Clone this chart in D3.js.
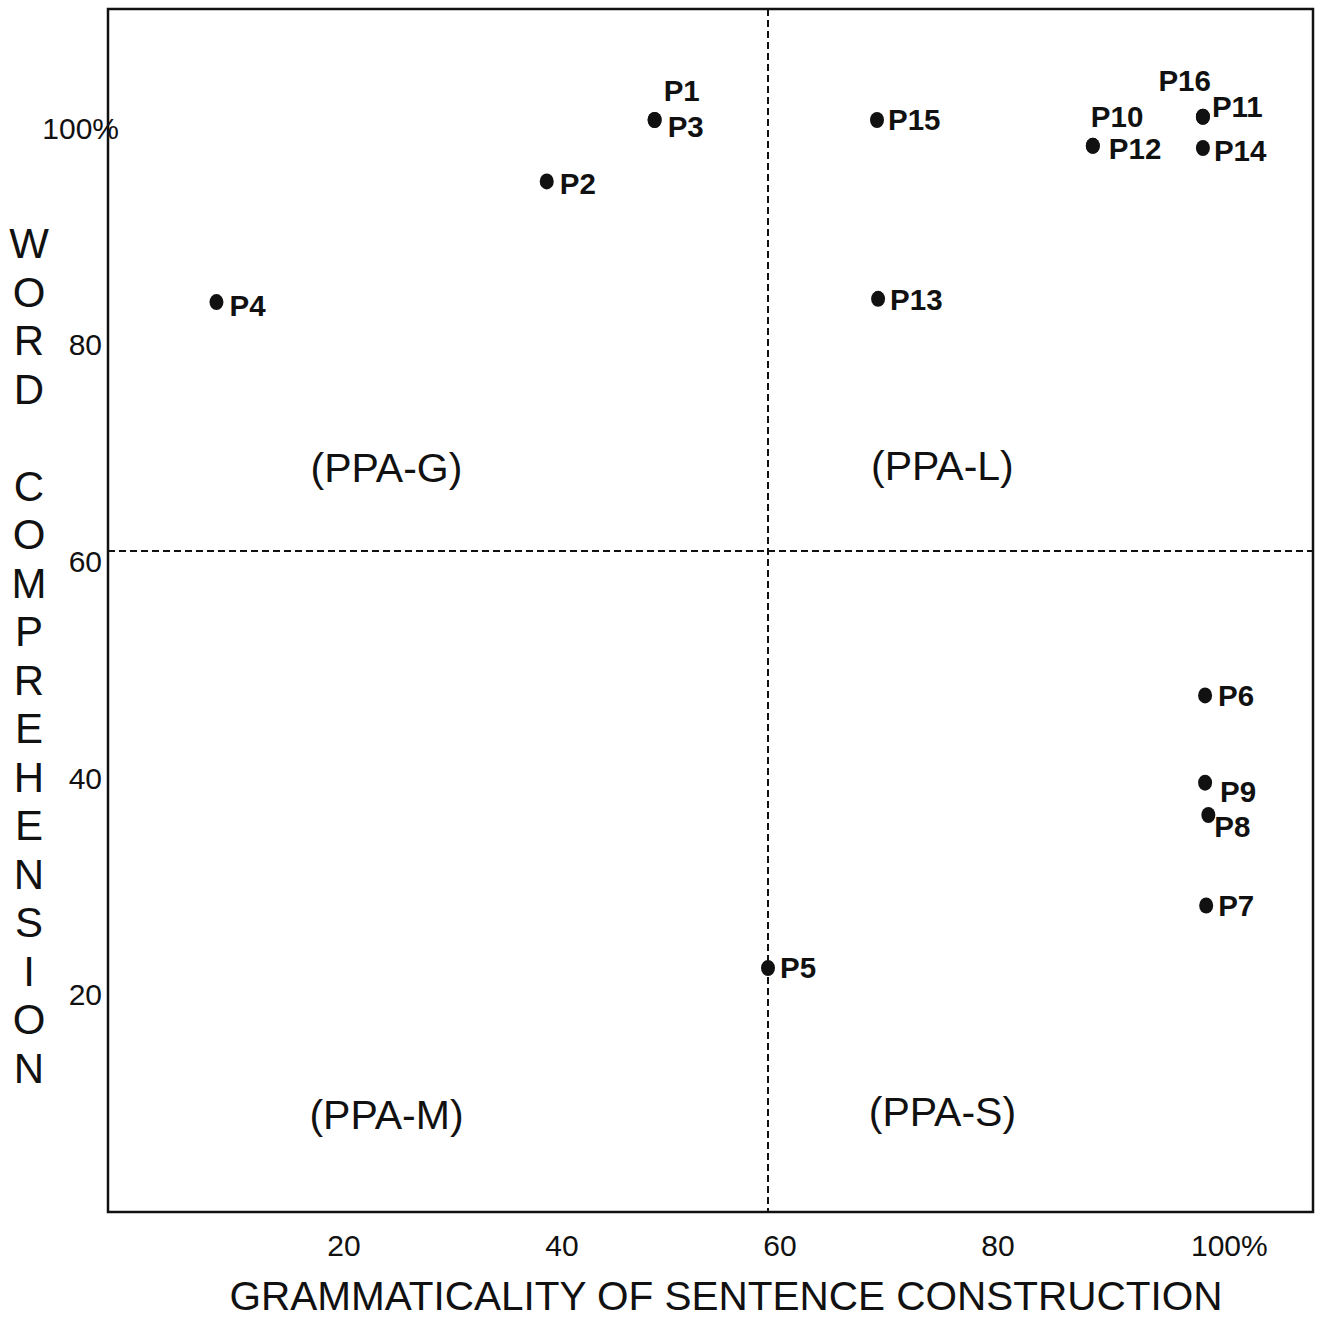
<!DOCTYPE html>
<html>
<head>
<meta charset="utf-8">
<script src="https://cdn.jsdelivr.net/npm/d3@7"></script>
<style>
  html, body { margin: 0; padding: 0; background: #fff; }
  svg { display: block; }
  text { font-family: "Liberation Sans", Arial, sans-serif; fill: #111; }
</style>
</head>
<body>
<script>
// ---------------- data ----------------
const participants   = ["P1","P2","P3","P4","P5","P6","P7","P8","P9","P10","P11","P12","P13","P14","P15","P16"];
const grammaticality = [49.6, 39.7, 49.6, 9.4, 60.0, 100.1, 100.2, 100.4, 100.1, 89.8, 99.9, 89.8, 70.1, 99.9, 70.0, 99.9];
const comprehension  = [100.0, 94.3, 100.0, 83.1, 21.3, 46.6, 27.1, 35.5, 38.5, 97.6, 100.3, 97.6, 83.4, 97.4, 100.0, 100.3];

const xTickValues = [20, 40, 60, 80, 100];
const xTickLabels = ["20", "40", "60", "80", "100%"];
const yTickValues = [100, 80, 60, 40, 20];
const yTickLabels = ["100%", "80", "60", "40", "20"];

const quadrantNames = ["(PPA-G)", "(PPA-L)", "(PPA-M)", "(PPA-S)"];
const quadrantX     = [25, 76, 25, 76];
const quadrantY     = [66.4, 66.6, 6.4, 6.6];

const cutoffX = 60;
const cutoffY = 60;

const xTitle = "GRAMMATICALITY OF SENTENCE CONSTRUCTION";
const yTitle = "WORD COMPREHENSION";

// ---------------- layout / style ----------------
const W = 1322, H = 1319;
const frame = { left: 108, top: 9, right: 1313, bottom: 1212 };
// label offsets (pixels from point) for each participant label
const labelOffset = {
  P1: [9, -19, "start"], P2: [13, 13, "start"], P3: [13, 17, "start"], P4: [13, 14, "start"],
  P5: [12, 10, "start"], P6: [13, 11, "start"], P7: [12, 11, "start"], P8: [6, 22, "start"],
  P9: [15, 19, "start"], P10: [-2, -19, "start"], P11: [9, 0, "start"], P12: [16, 13, "start"],
  P13: [12, 11, "start"], P14: [11, 13, "start"], P15: [11, 10, "start"], P16: [8, -26, "end"]
};

const x = d3.scaleLinear().domain([0, 100]).range([114, 1204]);
const y = d3.scaleLinear().domain([60, 100]).range([551, 120]);

const svg = d3.select("body").append("svg").attr("width", W).attr("height", H);
svg.append("rect").attr("width", W).attr("height", H).attr("fill", "#fff");

// dashed cutoff lines
svg.append("line")
  .attr("x1", x(cutoffX)).attr("x2", x(cutoffX))
  .attr("y1", frame.top).attr("y2", frame.bottom)
  .attr("stroke", "#111").attr("stroke-width", 2).attr("stroke-dasharray", "7,4");
svg.append("line")
  .attr("x1", frame.left).attr("x2", frame.right)
  .attr("y1", y(cutoffY)).attr("y2", y(cutoffY))
  .attr("stroke", "#111").attr("stroke-width", 2).attr("stroke-dasharray", "7,4");

// frame
svg.append("rect")
  .attr("x", frame.left).attr("y", frame.top)
  .attr("width", frame.right - frame.left).attr("height", frame.bottom - frame.top)
  .attr("fill", "none").attr("stroke", "#111").attr("stroke-width", 2.5);

// helper to measure text
function measure(str, size, weight) {
  const t = svg.append("text").attr("font-size", size).attr("font-weight", weight || "normal").text(str);
  const w = t.node().getComputedTextLength();
  t.remove();
  return w;
}

const tickSize = 30;

// x tick labels (centered on numeric part)
xTickValues.forEach((v, i) => {
  const lab = xTickLabels[i];
  const num = lab.replace("%", "");
  const wNum = measure(num, tickSize);
  svg.append("text")
    .attr("x", x(v) + 12 - wNum / 2)
    .attr("y", 1256)
    .attr("font-size", tickSize)
    .attr("text-anchor", "start")
    .text(lab);
});

// y tick labels (right-aligned at the axis; the percent label overlaps the axis)
yTickValues.forEach((v, i) => {
  const lab = yTickLabels[i];
  const hasPct = lab.indexOf("%") >= 0;
  svg.append("text")
    .attr("x", hasPct ? frame.left + 11 : frame.left - 6)
    .attr("y", y(v) + 8 + (100 - v) * 0.06)
    .attr("dy", "0.35em")
    .attr("font-size", tickSize)
    .attr("text-anchor", "end")
    .text(lab);
});

// axis titles
svg.append("text")
  .attr("x", 726).attr("y", 1310)
  .attr("font-size", 40.5)
  .attr("text-anchor", "middle")
  .text(xTitle);

const yChars = Array.from(yTitle);
svg.append("g").selectAll("text").data(yChars).join("text")
  .attr("x", 29)
  .attr("y", (d, i) => 243 + i * 48.5)
  .attr("dy", "0.36em")
  .attr("font-size", 42)
  .attr("text-anchor", "middle")
  .text(d => d);

// quadrant labels
quadrantNames.forEach((n, i) => {
  svg.append("text")
    .attr("x", x(quadrantX[i]))
    .attr("y", y(quadrantY[i]))
    .attr("font-size", 41)
    .attr("text-anchor", "middle")
    .text(n);
});

// points
const pts = participants.map((p, i) => ({ name: p, gx: grammaticality[i], cy: comprehension[i] }));

svg.append("g").selectAll("ellipse").data(pts).join("ellipse")
  .attr("cx", d => x(d.gx))
  .attr("cy", d => y(d.cy))
  .attr("rx", 7).attr("ry", 8)
  .attr("fill", "#111");

svg.append("g").selectAll("text").data(pts).join("text")
  .attr("x", d => x(d.gx) + labelOffset[d.name][0])
  .attr("y", d => y(d.cy) + labelOffset[d.name][1])
  .attr("text-anchor", d => labelOffset[d.name][2])
  .attr("font-size", 29.5)
  .attr("font-weight", "bold")
  .text(d => d.name);
</script>
</body>
</html>
